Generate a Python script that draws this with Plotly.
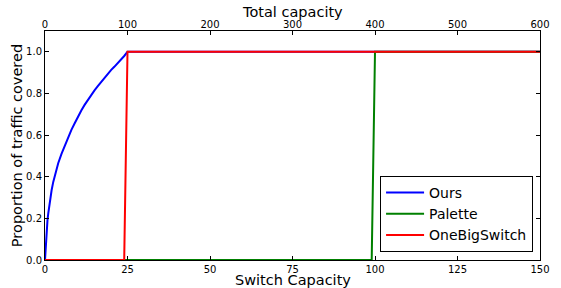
import plotly.graph_objects as go

# Data
ours_x = [0, 0.25, 0.5, 0.75, 1, 1.5, 2, 2.5, 3, 4, 5, 6, 7, 8, 9, 10, 11, 12, 13, 14,
          15, 16, 17, 18, 19, 20, 21, 22, 23, 24, 25, 150]
ours_y = [0, 0.09, 0.145, 0.19, 0.225, 0.285, 0.335, 0.375, 0.41, 0.465, 0.51, 0.55,
          0.59, 0.625, 0.657, 0.69, 0.718, 0.745, 0.77, 0.795, 0.815, 0.835, 0.855,
          0.875, 0.895, 0.912, 0.928, 0.944, 0.96, 0.98, 1.0, 1.0]
palette_x = [0, 99, 100, 150]
palette_y = [0, 0, 1, 1]
obs_x = [0, 24, 25, 150]
obs_y = [0, 0, 1, 1]

bottom_ticks = [0, 25, 50, 75, 100, 125, 150]
top_ticks = [0, 100, 200, 300, 400, 500, 600]
y_ticks = [0.0, 0.2, 0.4, 0.6, 0.8, 1.0]

FONT = "DejaVu Sans"

fig = go.Figure()
fig.add_trace(go.Scatter(x=ours_x, y=ours_y, mode="lines", name="Ours",
                         line=dict(color="#0000ff", width=2)))
fig.add_trace(go.Scatter(x=palette_x, y=palette_y, mode="lines", name="Palette",
                         line=dict(color="#008000", width=2)))
fig.add_trace(go.Scatter(x=obs_x, y=obs_y, mode="lines", name="OneBigSwitch",
                         line=dict(color="#ff0000", width=2)))
# invisible trace for top axis
fig.add_trace(go.Scatter(x=[0, 600], y=[0, 0], xaxis="x2", mode="lines",
                         line=dict(width=0), showlegend=False, hoverinfo="skip", opacity=0))

fig.update_layout(
    width=561, height=288,
    margin=dict(l=45, r=21, t=31, b=28),
    paper_bgcolor="white", plot_bgcolor="white",
    font=dict(family=FONT, color="black", size=10),
    showlegend=True,
    legend=dict(x=0.986, y=0.035, xanchor="right", yanchor="bottom",
                bordercolor="black", borderwidth=1, bgcolor="white",
                itemwidth=38,
                font=dict(size=14, family=FONT)),
    xaxis=dict(range=[0, 150], tickvals=bottom_ticks, ticks="inside", ticklen=4,
               tickcolor="black", showline=True, linecolor="black", linewidth=1,
               mirror=True, showgrid=False, zeroline=False, automargin=False,
               tickfont=dict(size=10)),
    xaxis2=dict(range=[0, 600], tickvals=top_ticks, overlaying="x", side="top",
                ticks="inside", ticklen=4, tickcolor="black", showgrid=False,
                zeroline=False, showline=False, automargin=False,
                tickfont=dict(size=10)),
    yaxis=dict(range=[0, 1.1], tickvals=y_ticks, tickformat=".1f", ticks="inside",
               ticklen=4, tickcolor="black", showline=True, linecolor="black",
               linewidth=1, mirror="ticks", showgrid=False, zeroline=False,
               automargin=False,
               title=dict(text="Proportion of traffic covered", font=dict(size=14.5), standoff=0),
               tickfont=dict(size=10)),
    annotations=[
        dict(text="Switch Capacity", xref="paper", yref="paper", x=0.5, y=0,
             xanchor="center", yanchor="middle", yshift=-20, showarrow=False,
             font=dict(size=14.5, family=FONT, color="black")),
        dict(text="Total capacity", xref="paper", yref="paper", x=0.5, y=1,
             xanchor="center", yanchor="middle", yshift=19, showarrow=False,
             font=dict(size=14.5, family=FONT, color="black")),
    ],
)

fig.write_html("out.html", config={"displayModeBar": False},
               post_script="document.body.style.margin='0';document.body.style.padding='0';")
